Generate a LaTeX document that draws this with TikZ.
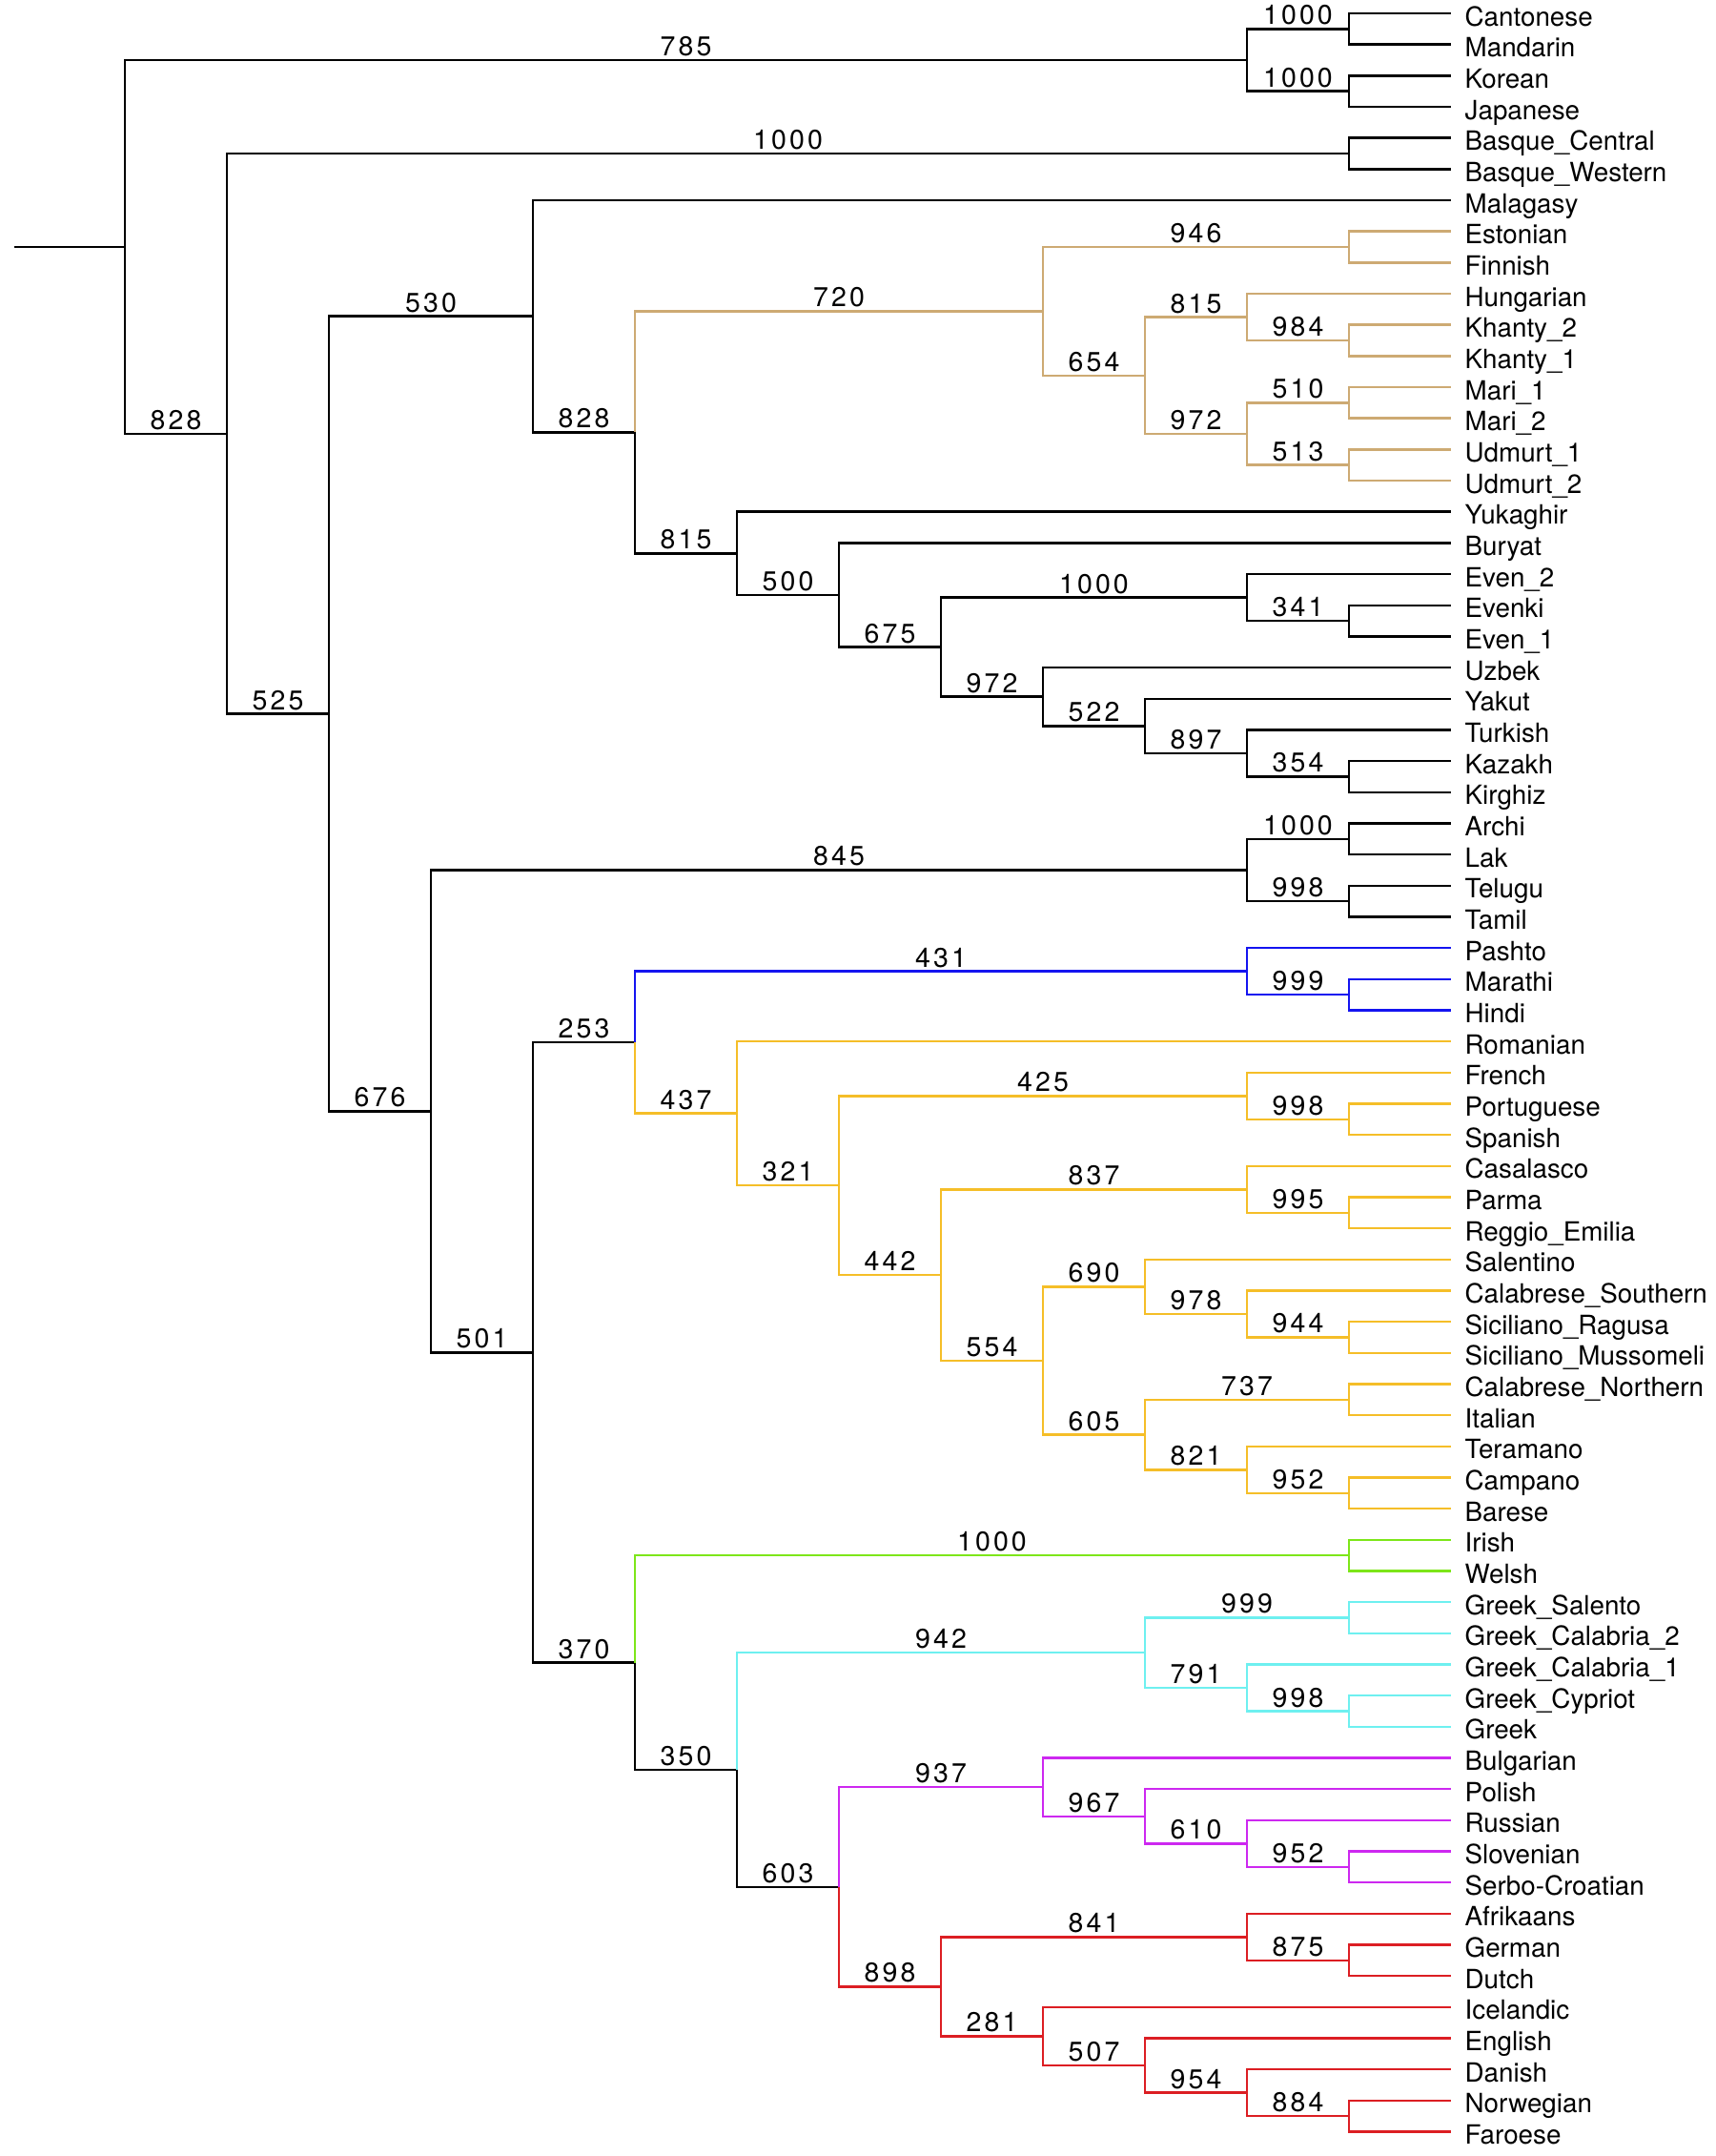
\documentclass[tikz,border=0pt]{standalone}
\usepackage{fontspec}
\setmainfont{TeX Gyre Heros}
\newfontfamily\bsfamily[LetterSpace=11]{TeX Gyre Heros}
\newcommand{\leaffont}{\fontsize{7.9pt}{9pt}\selectfont}
\newcommand{\bsfont}{\bsfamily\fontsize{8.1pt}{9pt}\selectfont}
\definecolor{uracol}{RGB}{205,170,115}
\definecolor{iircol}{RGB}{20,20,240}
\definecolor{romcol}{RGB}{245,190,40}
\definecolor{celcol}{RGB}{125,230,25}
\definecolor{grkcol}{RGB}{110,240,240}
\definecolor{slvcol}{RGB}{205,40,240}
\definecolor{gercol}{RGB}{220,30,35}
\begin{document}
\begin{tikzpicture}[
        x=1.07cm, y=-0.3267cm, line width=0.7pt,
        leaf/.style={anchor=west, inner xsep=0.135cm, inner ysep=0pt, text height=0.26cm, text depth=0pt, font=\leaffont},
        bs/.style={pos=0.75, anchor=base, yshift=0.045cm, inner sep=0pt, font=\bsfont}
    ]
        \useasboundingbox (-1.2243,0.5715) rectangle (15.598,69.78);

        % Leaves
        \foreach \name/\txt [count=\i] in {Cantonese/Cantonese, Mandarin/Mandarin, Korean/Korean, Japanese/Japanese,
            BasqueC/Basque\_Central, BasqueW/Basque\_Western, Malagasy/Malagasy, Estonian/Estonian, Finnish/Finnish,
            Hungarian/Hungarian, Khanty2/Khanty\_2, Khanty1/Khanty\_1, Mari1/Mari\_1, Mari2/Mari\_2,
            Udmurt1/Udmurt\_1, Udmurt2/Udmurt\_2, Yukaghir/Yukaghir, Buryat/Buryat, Even2/Even\_2, Evenki/Evenki,
            Even1/Even\_1, Uzbek/Uzbek, Yakut/Yakut, Turkish/Turkish, Kazakh/Kazakh, Kirghiz/Kirghiz,
            Archi/Archi, Lak/Lak, Telugu/Telugu, Tamil/Tamil, Pashto/Pashto, Marathi/Marathi, Hindi/Hindi,
            Romanian/Romanian, French/French, Portuguese/Portuguese, Spanish/Spanish, Casalasco/Casalasco,
            Parma/Parma, Reggio/Reggio\_Emilia, Salentino/Salentino, CalabreseS/Calabrese\_Southern,
            SicilianoR/Siciliano\_Ragusa, SicilianoM/Siciliano\_Mussomeli, CalabreseN/Calabrese\_Northern,
            Italian/Italian, Teramano/Teramano, Campano/Campano, Barese/Barese, Irish/Irish, Welsh/Welsh,
            GreekSal/Greek\_Salento, GreekCal2/Greek\_Calabria\_2, GreekCal1/Greek\_Calabria\_1,
            GreekCyp/Greek\_Cypriot, Greek/Greek, Bulgarian/Bulgarian, Polish/Polish, Russian/Russian,
            Slovenian/Slovenian, SerboCro/Serbo-Croatian, Afrikaans/Afrikaans, German/German, Dutch/Dutch,
            Icelandic/Icelandic, English/English, Danish/Danish, Norwegian/Norwegian, Faroese/Faroese}
            \node[leaf] (\name) at (13,\i) {\txt};

        % Inner nodes
        \coordinate (stub) at (-1.084,8.4960);
        \coordinate (root) at (0,8.4960);
        \coordinate (eastasia) at (11,2.5);
        \coordinate (sinitic) at (12,1.5);
        \coordinate (korjap) at (12,3.5);
        \coordinate (eurasia) at (1,14.4919);
        \coordinate (basque) at (12,5.5);
        \coordinate (core) at (2,23.4839);
        \coordinate (north) at (4,10.7246);
        \coordinate (nonmal) at (5,14.4492);
        \coordinate (uralic) at (9,10.5625);
        \coordinate (estfin) at (12,8.5);
        \coordinate (ugrper) at (10,12.625);
        \coordinate (ugric) at (11,10.75);
        \coordinate (khanty) at (12,11.5);
        \coordinate (permic) at (11,14.5);
        \coordinate (mari) at (12,13.5);
        \coordinate (udmurt) at (12,15.5);
        \coordinate (altaic) at (6,18.3359);
        \coordinate (altaicb) at (7,19.6719);
        \coordinate (altaicc) at (8,21.3438);
        \coordinate (tungus) at (11,19.75);
        \coordinate (evenk) at (12,20.5);
        \coordinate (turkic) at (9,22.9375);
        \coordinate (turkicb) at (10,23.875);
        \coordinate (turkicc) at (11,24.75);
        \coordinate (kazkir) at (12,25.5);
        \coordinate (south) at (3,36.2432);
        \coordinate (dravcau) at (11,28.5);
        \coordinate (archilak) at (12,27.5);
        \coordinate (teltam) at (12,29.5);
        \coordinate (ie) at (4,43.9863);
        \coordinate (ieirrom) at (5,34.0313);
        \coordinate (indoir) at (11,31.75);
        \coordinate (indic) at (12,32.5);
        \coordinate (romance) at (6,36.3125);
        \coordinate (romb) at (7,38.625);
        \coordinate (ibfr) at (11,35.75);
        \coordinate (iberian) at (12,36.5);
        \coordinate (romc) at (8,41.5);
        \coordinate (galloit) at (11,38.75);
        \coordinate (parreg) at (12,39.5);
        \coordinate (romd) at (9,44.25);
        \coordinate (southit) at (10,41.875);
        \coordinate (calsic) at (11,42.75);
        \coordinate (sicil) at (12,43.5);
        \coordinate (centit) at (10,46.625);
        \coordinate (calit) at (12,45.5);
        \coordinate (terbar) at (11,47.75);
        \coordinate (campbar) at (12,48.5);
        \coordinate (iecgs) at (5,53.9414);
        \coordinate (celtic) at (12,50.5);
        \coordinate (iegs) at (6,57.3828);
        \coordinate (greek) at (10,53.625);
        \coordinate (grsal) at (12,52.5);
        \coordinate (grcal) at (11,54.75);
        \coordinate (grcyp) at (12,55.5);
        \coordinate (slgerm) at (7,61.1406);
        \coordinate (slavic) at (9,57.9375);
        \coordinate (slavb) at (10,58.875);
        \coordinate (slavc) at (11,59.75);
        \coordinate (sloser) at (12,60.5);
        \coordinate (germanic) at (8,64.3438);
        \coordinate (wgerm) at (11,62.75);
        \coordinate (gerdut) at (12,63.5);
        \coordinate (ngerm) at (9,65.9375);
        \coordinate (ngermb) at (10,66.875);
        \coordinate (ngermc) at (11,67.75);
        \coordinate (norfar) at (12,68.5);

        % Top
        \draw (stub) -- (root);
        \draw (root) |- node[bs]{785} (eastasia);
        \draw (root) |- node[bs]{828} (eurasia);
        \draw (eastasia) |- node[bs]{1000} (sinitic);
        \draw (eastasia) |- node[bs]{1000} (korjap);
        \draw (sinitic) |- (Cantonese);
        \draw (sinitic) |- (Mandarin);
        \draw (korjap) |- (Korean);
        \draw (korjap) |- (Japanese);
        \draw (eurasia) |- node[bs]{1000} (basque);
        \draw (eurasia) |- node[bs]{525} (core);
        \draw (basque) |- (BasqueC);
        \draw (basque) |- (BasqueW);
        \draw (core) |- node[bs]{530} (north);
        \draw (core) |- node[bs]{676} (south);
        \draw (north) |- (Malagasy);
        \draw (north) |- node[bs]{828} (nonmal);

        % Uralic
        \draw[uracol] (nonmal) |- node[bs, text=black]{720} (uralic);
        \draw[uracol] (uralic) |- node[bs, text=black]{946} (estfin);
        \draw[uracol] (uralic) |- node[bs, text=black]{654} (ugrper);
        \draw[uracol] (estfin) |- (Estonian);
        \draw[uracol] (estfin) |- (Finnish);
        \draw[uracol] (ugrper) |- node[bs, text=black]{815} (ugric);
        \draw[uracol] (ugrper) |- node[bs, text=black]{972} (permic);
        \draw[uracol] (ugric) |- (Hungarian);
        \draw[uracol] (ugric) |- node[bs, text=black]{984} (khanty);
        \draw[uracol] (khanty) |- (Khanty2);
        \draw[uracol] (khanty) |- (Khanty1);
        \draw[uracol] (permic) |- node[bs, text=black]{510} (mari);
        \draw[uracol] (permic) |- node[bs, text=black]{513} (udmurt);
        \draw[uracol] (mari) |- (Mari1);
        \draw[uracol] (mari) |- (Mari2);
        \draw[uracol] (udmurt) |- (Udmurt1);
        \draw[uracol] (udmurt) |- (Udmurt2);

        % Altaic
        \draw (nonmal) |- node[bs]{815} (altaic);
        \draw (altaic) |- (Yukaghir);
        \draw (altaic) |- node[bs]{500} (altaicb);
        \draw (altaicb) |- (Buryat);
        \draw (altaicb) |- node[bs]{675} (altaicc);
        \draw (altaicc) |- node[bs]{1000} (tungus);
        \draw (altaicc) |- node[bs]{972} (turkic);
        \draw (tungus) |- (Even2);
        \draw (tungus) |- node[bs]{341} (evenk);
        \draw (evenk) |- (Evenki);
        \draw (evenk) |- (Even1);
        \draw (turkic) |- (Uzbek);
        \draw (turkic) |- node[bs]{522} (turkicb);
        \draw (turkicb) |- (Yakut);
        \draw (turkicb) |- node[bs]{897} (turkicc);
        \draw (turkicc) |- (Turkish);
        \draw (turkicc) |- node[bs]{354} (kazkir);
        \draw (kazkir) |- (Kazakh);
        \draw (kazkir) |- (Kirghiz);

        % Caucasian and Dravidian
        \draw (south) |- node[bs]{845} (dravcau);
        \draw (south) |- node[bs]{501} (ie);
        \draw (dravcau) |- node[bs]{1000} (archilak);
        \draw (dravcau) |- node[bs]{998} (teltam);
        \draw (archilak) |- (Archi);
        \draw (archilak) |- (Lak);
        \draw (teltam) |- (Telugu);
        \draw (teltam) |- (Tamil);

        % Indo-Iranian
        \draw (ie) |- node[bs]{253} (ieirrom);
        \draw (ie) |- node[bs]{370} (iecgs);
        \draw[iircol] (ieirrom) |- node[bs, text=black]{431} (indoir);
        \draw[iircol] (indoir) |- (Pashto);
        \draw[iircol] (indoir) |- node[bs, text=black]{999} (indic);
        \draw[iircol] (indic) |- (Marathi);
        \draw[iircol] (indic) |- (Hindi);

        % Romance
        \draw[romcol] (ieirrom) |- node[bs, text=black]{437} (romance);
        \draw[romcol] (romance) |- (Romanian);
        \draw[romcol] (romance) |- node[bs, text=black]{321} (romb);
        \draw[romcol] (romb) |- node[bs, text=black]{425} (ibfr);
        \draw[romcol] (romb) |- node[bs, text=black]{442} (romc);
        \draw[romcol] (ibfr) |- (French);
        \draw[romcol] (ibfr) |- node[bs, text=black]{998} (iberian);
        \draw[romcol] (iberian) |- (Portuguese);
        \draw[romcol] (iberian) |- (Spanish);
        \draw[romcol] (romc) |- node[bs, text=black]{837} (galloit);
        \draw[romcol] (romc) |- node[bs, text=black]{554} (romd);
        \draw[romcol] (galloit) |- (Casalasco);
        \draw[romcol] (galloit) |- node[bs, text=black]{995} (parreg);
        \draw[romcol] (parreg) |- (Parma);
        \draw[romcol] (parreg) |- (Reggio);
        \draw[romcol] (romd) |- node[bs, text=black]{690} (southit);
        \draw[romcol] (romd) |- node[bs, text=black]{605} (centit);
        \draw[romcol] (southit) |- (Salentino);
        \draw[romcol] (southit) |- node[bs, text=black]{978} (calsic);
        \draw[romcol] (calsic) |- (CalabreseS);
        \draw[romcol] (calsic) |- node[bs, text=black]{944} (sicil);
        \draw[romcol] (sicil) |- (SicilianoR);
        \draw[romcol] (sicil) |- (SicilianoM);
        \draw[romcol] (centit) |- node[bs, text=black]{737} (calit);
        \draw[romcol] (centit) |- node[bs, text=black]{821} (terbar);
        \draw[romcol] (calit) |- (CalabreseN);
        \draw[romcol] (calit) |- (Italian);
        \draw[romcol] (terbar) |- (Teramano);
        \draw[romcol] (terbar) |- node[bs, text=black]{952} (campbar);
        \draw[romcol] (campbar) |- (Campano);
        \draw[romcol] (campbar) |- (Barese);

        % Celtic
        \draw[celcol] (iecgs) |- node[bs, text=black]{1000} (celtic);
        \draw[celcol] (celtic) |- (Irish);
        \draw[celcol] (celtic) |- (Welsh);
        \draw (iecgs) |- node[bs]{350} (iegs);

        % Greek
        \draw[grkcol] (iegs) |- node[bs, text=black]{942} (greek);
        \draw[grkcol] (greek) |- node[bs, text=black]{999} (grsal);
        \draw[grkcol] (greek) |- node[bs, text=black]{791} (grcal);
        \draw[grkcol] (grsal) |- (GreekSal);
        \draw[grkcol] (grsal) |- (GreekCal2);
        \draw[grkcol] (grcal) |- (GreekCal1);
        \draw[grkcol] (grcal) |- node[bs, text=black]{998} (grcyp);
        \draw[grkcol] (grcyp) |- (GreekCyp);
        \draw[grkcol] (grcyp) |- (Greek);
        \draw (iegs) |- node[bs]{603} (slgerm);

        % Slavic
        \draw[slvcol] (slgerm) |- node[bs, text=black]{937} (slavic);
        \draw[slvcol] (slavic) |- (Bulgarian);
        \draw[slvcol] (slavic) |- node[bs, text=black]{967} (slavb);
        \draw[slvcol] (slavb) |- (Polish);
        \draw[slvcol] (slavb) |- node[bs, text=black]{610} (slavc);
        \draw[slvcol] (slavc) |- (Russian);
        \draw[slvcol] (slavc) |- node[bs, text=black]{952} (sloser);
        \draw[slvcol] (sloser) |- (Slovenian);
        \draw[slvcol] (sloser) |- (SerboCro);

        % Germanic
        \draw[gercol] (slgerm) |- node[bs, text=black]{898} (germanic);
        \draw[gercol] (germanic) |- node[bs, text=black]{841} (wgerm);
        \draw[gercol] (germanic) |- node[bs, text=black]{281} (ngerm);
        \draw[gercol] (wgerm) |- (Afrikaans);
        \draw[gercol] (wgerm) |- node[bs, text=black]{875} (gerdut);
        \draw[gercol] (gerdut) |- (German);
        \draw[gercol] (gerdut) |- (Dutch);
        \draw[gercol] (ngerm) |- (Icelandic);
        \draw[gercol] (ngerm) |- node[bs, text=black]{507} (ngermb);
        \draw[gercol] (ngermb) |- (English);
        \draw[gercol] (ngermb) |- node[bs, text=black]{954} (ngermc);
        \draw[gercol] (ngermc) |- (Danish);
        \draw[gercol] (ngermc) |- node[bs, text=black]{884} (norfar);
        \draw[gercol] (norfar) |- (Norwegian);
        \draw[gercol] (norfar) |- (Faroese);
    \end{tikzpicture}
\end{document}
